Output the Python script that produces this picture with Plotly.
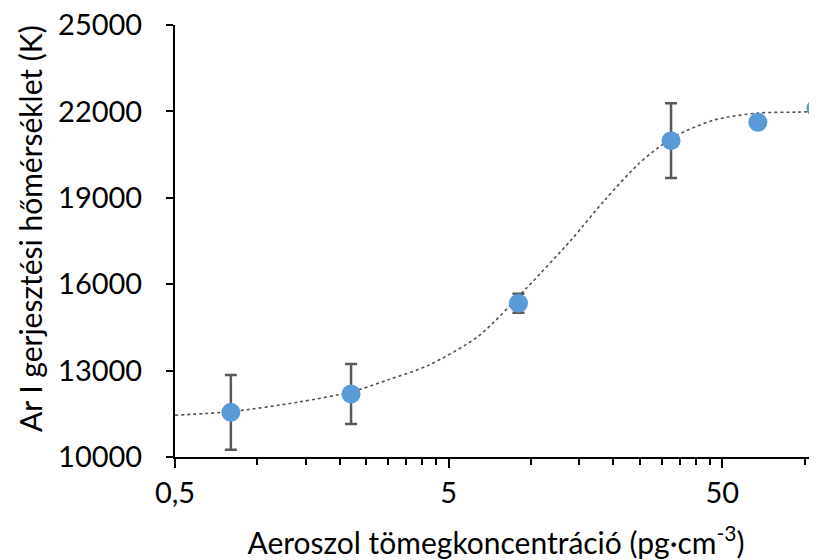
import math
import plotly.graph_objects as go

conc = [0.8, 2.2, 9.0, 32.5, 67.5, 110.0]
temp = [11550, 12190, 15340, 20985, 21620, 22110]
temp_err = [1300, 1040, 330, 1300, 0, 420]

# dashed fit curve
fit_x = [0.5, 0.806, 1.42, 2.20, 3.03, 4.23, 6.43, 9.6, 14.0, 18.6, 24.5, 29.0, 34.3, 46.7, 67.0, 93.7, 111.0]
fit_y = [11450, 11580, 11910, 12260, 12690, 13190, 14200, 15850, 17530, 18920, 20140, 20720, 21180, 21700, 21940, 21975, 21998]

y_ticks = [10000, 13000, 16000, 19000, 22000, 25000]
x_tickvals = [0.5, 5, 50]
x_ticktext = ["0,5", "5", "50"]
x_minor = [1, 1.5, 2, 2.5, 3, 3.5, 4, 4.5, 10, 15, 20, 25, 30, 35, 40, 45, 100, 150]
x_min, x_max = 0.5, 111.0

FONT = "Lato"

fig = go.Figure()
fig.add_trace(go.Scatter(
    x=fit_x, y=fit_y, mode="lines",
    line=dict(color="#505050", width=1.6, dash="3px,3px", shape="spline", smoothing=0.8),
    hoverinfo="skip", showlegend=False,
))
fig.add_trace(go.Scatter(
    x=conc, y=temp, mode="markers",
    marker=dict(color="#5B9BD5", size=19, line=dict(width=0)),
    error_y=dict(type="data", array=temp_err, visible=True, color="#595959", thickness=2.5, width=6),
    cliponaxis=False, showlegend=False,
))

# the page body adds an 8px offset; figure size and margins compensate for it
fig.update_layout(
    width=809, height=552,
    margin=dict(l=167, r=0, t=17, b=103, autoexpand=False),
    paper_bgcolor="white", plot_bgcolor="white",
    font=dict(family=FONT, color="#000000", size=29),
    showlegend=False,
    annotations=[dict(
        text="Ar I gerjesztési hőmérséklet (K)", textangle=-90,
        xref="paper", yref="paper", x=-0.2259, y=0.530,
        xanchor="center", yanchor="middle", showarrow=False,
        font=dict(family=FONT, size=30, color="#000000"),
    )],
)
fig.update_xaxes(
    type="log", range=[math.log10(x_min), math.log10(x_max)], automargin=False,
    tickmode="array", tickvals=x_tickvals, ticktext=x_ticktext,
    ticks="outside", ticklen=9, tickwidth=2, tickcolor="black",
    showline=True, linecolor="black", linewidth=2,
    showgrid=False, zeroline=False, ticklabeloverflow="allow",
    tickfont=dict(family=FONT, size=29), ticklabelstandoff=0,
    minor=dict(tickmode="array", tickvals=x_minor, ticks="outside", ticklen=6, tickwidth=2, tickcolor="black", showgrid=False),
    title=dict(text="Aeroszol tömegkoncentráció (pg·cm<sup>-3</sup>)", font=dict(family=FONT, size=30), standoff=30),
)
fig.update_yaxes(
    range=[10000, 25000], tickmode="array", tickvals=y_ticks, tickformat="d", automargin=False,
    ticks="outside", ticklen=7, tickwidth=2, tickcolor="black",
    showline=True, linecolor="black", linewidth=2,
    showgrid=False, zeroline=False, ticklabeloverflow="allow",
    tickfont=dict(family=FONT, size=29), ticklabelstandoff=18,
)

fig.write_html("out.html")
